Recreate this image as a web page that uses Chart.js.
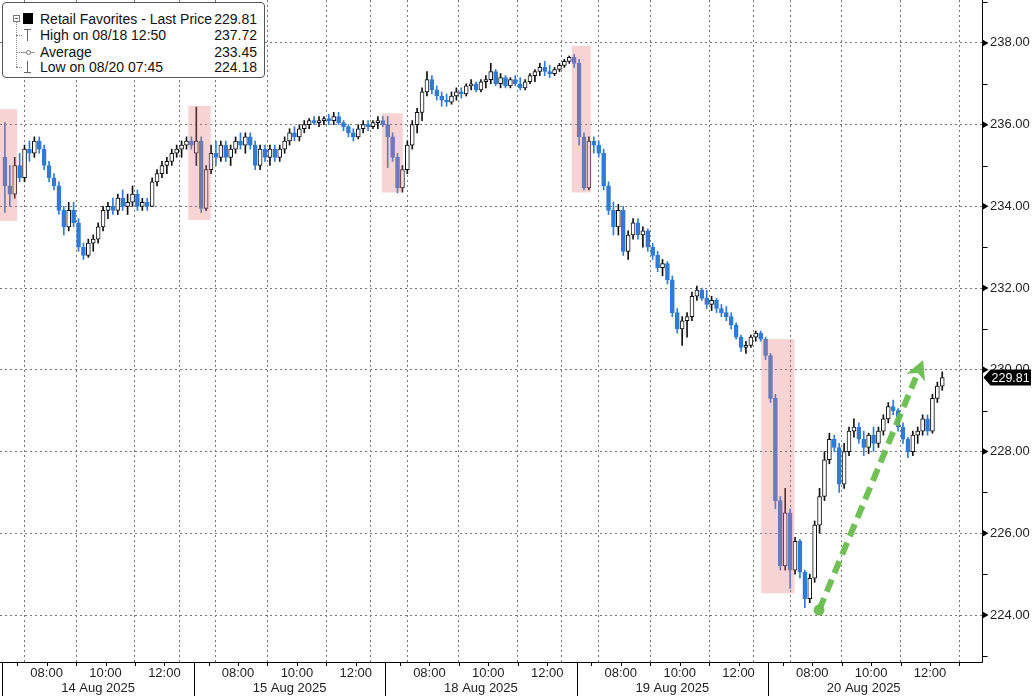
<!DOCTYPE html>
<html lang="en">
<head>
<meta charset="UTF-8">
<title>Retail Favorites - Last Price</title>
<script src="https://cdn.jsdelivr.net/npm/chart.js@4"></script>
<style>
    body { margin: 0; background: #fff; font-family: "Liberation Sans", Arial, sans-serif; }
    #wrap { position: relative; width: 1034px; height: 696px; }
    #legend { position: absolute; left: 2px; top: 2px; width: 261px; height: 74px; border: 1px solid #555; border-radius: 4px; background: #fff; font-size: 14px; color: #111; }
    #legend span { position: absolute; box-sizing: border-box; }
    .row { position: absolute; left: 37px; right: 7px; height: 16px; line-height: 16px; white-space: nowrap; }
    .row .val { right: 0; top: 0; }
    .fold { left: 10px; top: 12px; width: 7px; height: 7px; border: 1px solid #777; }
    .fold::after { content: ''; position: absolute; left: 1px; top: 2px; width: 3px; border-top: 1px solid #555; }
    .swatch { left: 20px; top: 10px; width: 10px; height: 11px; background: #000; }
    .tree { left: 13px; top: 19px; height: 45px; border-left: 1px dotted #888; }
    .branch { left: 13px; width: 6px; border-top: 1px dotted #888; }
    .tee { left: 21px; top: 26px; width: 7px; height: 12px; border-top: 1px solid #666; }
    .tee::after { content: ''; position: absolute; left: 3px; top: 0; height: 11px; border-left: 1px solid #666; }
    .foot { left: 21px; top: 58px; width: 7px; height: 12px; border-bottom: 1px solid #666; }
    .foot::after { content: ''; position: absolute; left: 3px; top: 0; height: 11px; border-left: 1px solid #666; }
    .avg { left: 19px; top: 49px; width: 13px; border-top: 1px solid #999; }
    .avg::after { content: ''; position: absolute; left: 4px; top: -3px; width: 5px; height: 5px; border: 1px solid #777; border-radius: 50%; background: #fff; box-sizing: border-box; }
</style>
</head>
<body>
<div id="wrap">
    <canvas id="chart" width="1034" height="696"></canvas>
    <div id="legend">
        <span class="fold"></span><span class="swatch"></span>
        <span class="tree"></span>
        <span class="branch" style="top:32px"></span>
        <span class="branch" style="top:49px"></span>
        <span class="branch" style="top:64px"></span>
        <span class="tee"></span><span class="avg"></span><span class="foot"></span>
        <div class="row" style="top:8px">Retail Favorites - Last Price<span class="val">229.81</span></div>
        <div class="row" style="top:24px">High on 08/18 12:50<span class="val">237.72</span></div>
        <div class="row" style="top:41px">Average<span class="val">233.45</span></div>
        <div class="row" style="top:56px">Low on 08/20 07:45<span class="val">224.18</span></div>
    </div>
</div>

<script>
    // axis labels
    const dayLabels = ['14 Aug 2025', '15 Aug 2025', '18 Aug 2025', '19 Aug 2025', '20 Aug 2025'];
    const hourLabels = ['08:00', '10:00', '12:00'];
    const hourMinutes = [90, 210, 330];     // minutes after the 06:30 open
    const sessionMinutes = 390;
    const candleMinutes = 10;
    const yTicks = [224, 226, 228, 230, 232, 234, 236, 238];
    const minorTicks = [223, 225, 227, 229, 231, 233, 235, 237, 239];
    const lastPrice = 229.81;

    // 10-minute candles: [open, high, low, close]
    const aug14 = [
        [235.2, 236.05, 233.85, 234.5], [234.5, 235.0, 234.0, 234.3], [234.3, 235.2, 234.2, 235.0],
        [235.0, 235.3, 234.6, 234.7], [234.7, 235.5, 234.6, 235.4], [235.4, 235.6, 235.1, 235.3],
        [235.3, 235.7, 235.2, 235.6], [235.6, 235.7, 235.3, 235.4], [235.4, 235.5, 234.9, 235.0],
        [235.0, 235.1, 234.6, 234.7], [234.7, 234.8, 234.4, 234.5], [234.5, 234.6, 233.8, 233.9],
        [233.9, 234.0, 233.3, 233.5], [233.5, 234.1, 233.4, 233.9], [233.9, 234.1, 233.5, 233.6],
        [233.6, 233.7, 232.9, 233.0], [233.0, 233.1, 232.7, 232.8], [232.8, 233.2, 232.75, 233.1],
        [233.1, 233.3, 232.9, 233.2], [233.2, 233.6, 233.1, 233.5], [233.5, 234.0, 233.4, 233.9],
        [233.9, 234.1, 233.7, 234.0], [234.0, 234.2, 233.8, 233.9], [233.9, 234.3, 233.8, 234.2],
        [234.2, 234.4, 233.9, 234.0], [234.0, 234.3, 233.8, 234.1], [234.1, 234.5, 234.0, 234.3],
        [234.3, 234.4, 233.9, 234.0], [234.0, 234.2, 233.9, 234.1], [234.1, 234.2, 233.9, 234.0],
        [234.0, 234.7, 234.0, 234.6], [234.6, 234.9, 234.5, 234.8], [234.8, 235.1, 234.7, 235.0],
        [235.0, 235.2, 234.8, 235.1], [235.1, 235.4, 235.0, 235.3], [235.3, 235.5, 235.2, 235.4],
        [235.4, 235.6, 235.2, 235.5], [235.5, 235.7, 235.4, 235.6], [235.6, 235.7, 235.4, 235.5]
    ];
    const aug15 = [
        [235.3, 236.43, 235.0, 235.6], [235.6, 235.7, 233.85, 233.95], [233.95, 235.0, 233.9, 234.9],
        [234.9, 235.5, 234.8, 235.3], [235.3, 235.6, 235.0, 235.2], [235.2, 235.6, 235.1, 235.5],
        [235.5, 235.6, 235.1, 235.2], [235.2, 235.5, 235.0, 235.4], [235.4, 235.7, 235.3, 235.6],
        [235.6, 235.8, 235.4, 235.5], [235.5, 235.8, 235.3, 235.7], [235.7, 235.8, 235.4, 235.5],
        [235.5, 235.6, 234.9, 235.0], [235.0, 235.5, 234.9, 235.4], [235.4, 235.5, 235.1, 235.2],
        [235.2, 235.5, 235.0, 235.4], [235.4, 235.5, 235.1, 235.2], [235.2, 235.5, 235.1, 235.4],
        [235.4, 235.7, 235.3, 235.6], [235.6, 235.9, 235.5, 235.8], [235.8, 235.95, 235.6, 235.7],
        [235.7, 236.0, 235.6, 235.9], [235.9, 236.1, 235.8, 236.0], [236.0, 236.15, 235.9, 236.1],
        [236.1, 236.2, 236.0, 236.05], [236.05, 236.2, 235.95, 236.1], [236.1, 236.2, 236.0, 236.15],
        [236.15, 236.25, 236.0, 236.1], [236.1, 236.3, 236.0, 236.2], [236.2, 236.3, 236.0, 236.05],
        [236.05, 236.1, 235.85, 235.95], [235.95, 236.0, 235.7, 235.8], [235.8, 235.9, 235.6, 235.7],
        [235.7, 236.0, 235.65, 235.9], [235.9, 236.1, 235.8, 236.0], [236.0, 236.1, 235.85, 235.95],
        [235.95, 236.1, 235.9, 236.05], [236.05, 236.2, 235.9, 236.1], [236.1, 236.2, 235.95, 236.0]
    ];
    const aug18 = [
        [236.0, 236.2, 234.95, 235.7], [235.7, 235.8, 235.1, 235.2], [235.2, 235.3, 234.33, 234.45],
        [234.45, 235.0, 234.35, 234.9], [234.9, 235.6, 234.8, 235.5], [235.5, 236.1, 235.4, 236.0],
        [236.0, 236.4, 235.8, 236.3], [236.3, 236.9, 236.1, 236.8], [236.8, 237.3, 236.7, 237.1],
        [237.1, 237.2, 236.75, 236.85], [236.85, 236.95, 236.6, 236.7], [236.7, 236.8, 236.45, 236.6],
        [236.6, 236.75, 236.45, 236.55], [236.55, 236.8, 236.5, 236.7], [236.7, 236.9, 236.6, 236.8],
        [236.8, 236.9, 236.65, 236.75], [236.75, 237.0, 236.7, 236.95], [236.95, 237.1, 236.85, 237.0],
        [237.0, 237.05, 236.8, 236.85], [236.85, 237.1, 236.8, 237.05], [237.05, 237.2, 236.9, 237.1],
        [237.1, 237.5, 237.0, 237.3], [237.3, 237.35, 236.95, 237.0], [237.0, 237.25, 236.9, 237.15],
        [237.15, 237.2, 236.9, 236.95], [236.95, 237.15, 236.9, 237.1], [237.1, 237.2, 236.95, 237.0],
        [237.0, 237.15, 236.85, 236.9], [236.9, 237.1, 236.85, 237.05], [237.05, 237.25, 237.0, 237.2],
        [237.2, 237.35, 237.05, 237.3], [237.3, 237.5, 237.2, 237.4], [237.4, 237.55, 237.2, 237.3],
        [237.3, 237.45, 237.15, 237.25], [237.25, 237.4, 237.2, 237.35], [237.35, 237.5, 237.3, 237.45],
        [237.45, 237.6, 237.4, 237.55], [237.55, 237.68, 237.5, 237.65], [237.65, 237.72, 237.4, 237.5]
    ];
    const aug19 = [
        [237.5, 237.6, 235.5, 235.7], [235.7, 235.8, 234.4, 234.45], [234.45, 235.7, 234.4, 235.6],
        [235.6, 235.7, 235.3, 235.5], [235.5, 235.6, 235.2, 235.3], [235.3, 235.4, 234.4, 234.5],
        [234.5, 234.6, 233.8, 233.9], [233.9, 234.1, 233.3, 233.5], [233.5, 234.05, 233.3, 233.9],
        [233.9, 234.0, 232.8, 232.9], [232.9, 233.4, 232.7, 233.3], [233.3, 233.7, 233.2, 233.6],
        [233.6, 233.7, 233.2, 233.3], [233.3, 233.5, 233.0, 233.4], [233.4, 233.45, 232.9, 233.0],
        [233.0, 233.1, 232.7, 232.8], [232.8, 232.9, 232.4, 232.5], [232.5, 232.7, 232.3, 232.6],
        [232.6, 232.65, 232.1, 232.2], [232.2, 232.3, 231.3, 231.4], [231.4, 231.5, 230.9, 231.0],
        [231.0, 231.3, 230.6, 231.2], [231.2, 231.4, 230.8, 231.3], [231.3, 231.9, 231.2, 231.8],
        [231.8, 232.05, 231.7, 231.95], [231.95, 232.0, 231.7, 231.75], [231.75, 231.95, 231.5, 231.6],
        [231.6, 231.8, 231.45, 231.7], [231.7, 231.75, 231.4, 231.5], [231.5, 231.6, 231.3, 231.4],
        [231.4, 231.55, 231.2, 231.3], [231.3, 231.4, 231.0, 231.1], [231.1, 231.15, 230.75, 230.8],
        [230.8, 230.85, 230.45, 230.55], [230.55, 230.7, 230.4, 230.6], [230.6, 230.85, 230.55, 230.8],
        [230.8, 230.95, 230.7, 230.9], [230.9, 230.95, 230.7, 230.75], [230.75, 230.8, 230.25, 230.35]
    ];
    const aug20 = [
        [230.35, 230.4, 229.2, 229.3], [229.3, 229.4, 226.6, 226.8], [226.8, 226.9, 225.1, 225.2],
        [225.2, 227.1, 225.1, 226.5], [226.5, 226.6, 224.65, 225.1], [225.1, 225.9, 225.0, 225.8],
        [225.8, 225.85, 224.9, 225.05], [225.05, 225.1, 224.18, 224.4], [224.4, 225.0, 224.3, 224.9],
        [224.9, 226.3, 224.8, 226.2], [226.2, 227.1, 226.0, 226.9], [226.9, 228.0, 226.8, 227.8],
        [227.8, 228.45, 227.7, 228.3], [228.3, 228.4, 228.0, 228.1], [228.1, 228.2, 227.0, 227.2],
        [227.2, 228.2, 227.1, 228.0], [228.0, 228.6, 227.9, 228.5], [228.5, 228.8, 228.35, 228.6],
        [228.6, 228.7, 228.2, 228.3], [228.3, 228.5, 227.9, 228.1], [228.1, 228.45, 227.95, 228.4],
        [228.4, 228.6, 228.0, 228.2], [228.2, 228.6, 228.1, 228.5], [228.5, 228.9, 228.4, 228.8],
        [228.8, 229.2, 228.7, 229.1], [229.1, 229.26, 228.9, 229.0], [229.0, 229.05, 228.5, 228.6],
        [228.6, 228.7, 228.2, 228.3], [228.3, 228.35, 227.85, 228.0], [228.0, 228.5, 227.9, 228.4],
        [228.4, 228.6, 228.2, 228.5], [228.5, 228.9, 228.4, 228.8], [228.8, 228.9, 228.4, 228.5],
        [228.5, 229.4, 228.45, 229.3], [229.3, 229.7, 229.2, 229.6], [229.6, 229.95, 229.5, 229.81]
    ];

    // highlighted zones: [from minute, to minute, low price, high price]
    const shadeZones = [
        [-5, 30, 233.64, 236.38],
        [378.7, 424.4, 233.67, 236.46],
        [773, 815.7, 234.34, 236.28],
        [1160, 1199, 234.34, 237.93],
        [1546, 1614, 224.53, 230.75]
    ];
    // green arrow: [minute, price]
    const arrowFrom = [1664, 224.12];
    const arrowTo = [1876, 230.24];

    const BLUE = '#2f7bd6';
    const GREEN = 'rgba(104, 190, 76, 0.95)';
    const FONT = '"Liberation Sans", Arial, sans-serif';

    const wicks = [], bodies = [], up = [];
    [aug14, aug15, aug18, aug19, aug20].forEach((day, d) => {
        day.forEach((c, i) => {
            const x = d * sessionMinutes + i * candleMinutes + candleMinutes / 2;
            wicks.push({ x: x, y: [c[2], c[1]] });
            bodies.push({ x: x, y: [c[0], c[3]] });
            up.push(c[3] >= c[0]);
        });
    });

    const gridMinutes = [];
    dayLabels.forEach((_, d) => {
        gridMinutes.push(d * sessionMinutes);
        hourMinutes.forEach(m => gridMinutes.push(d * sessionMinutes + m));
    });

    const noPadding = s => {
        s.paddingTop = 0; s.paddingBottom = 0; s.paddingLeft = 0; s.paddingRight = 0;
    };

    const overlay = {
        id: 'overlay',
        afterDatasetsDraw(chart) {
            const { ctx, chartArea: a, scales: { x, y } } = chart;
            ctx.save();
            ctx.beginPath();
            ctx.rect(a.left, a.top, a.right - a.left, a.bottom - a.top);
            ctx.clip();

            ctx.fillStyle = 'rgba(232, 120, 120, 0.33)';
            shadeZones.forEach(([m0, m1, lo, hi]) => {
                const px0 = x.getPixelForValue(m0), px1 = x.getPixelForValue(m1);
                const py0 = y.getPixelForValue(hi), py1 = y.getPixelForValue(lo);
                ctx.fillRect(px0, py0, px1 - px0, py1 - py0);
            });

            const ax0 = x.getPixelForValue(arrowFrom[0]), ay0 = y.getPixelForValue(arrowFrom[1]);
            const ax1 = x.getPixelForValue(arrowTo[0]), ay1 = y.getPixelForValue(arrowTo[1]);
            const ang = Math.atan2(ay1 - ay0, ax1 - ax0);
            const head = 19;
            const bx = ax1 - Math.cos(ang) * head, by = ay1 - Math.sin(ang) * head;
            ctx.strokeStyle = GREEN;
            ctx.fillStyle = GREEN;
            ctx.lineWidth = 6;
            ctx.setLineDash([13, 7]);
            ctx.beginPath();
            ctx.moveTo(ax0, ay0);
            ctx.lineTo(bx, by);
            ctx.stroke();
            ctx.setLineDash([]);
            ctx.beginPath();
            ctx.arc(ax0, ay0, 5.5, 0, Math.PI * 2);
            ctx.fill();
            ctx.beginPath();
            ctx.moveTo(ax1, ay1);
            ctx.lineTo(bx + Math.sin(ang) * 10, by - Math.cos(ang) * 10);
            ctx.lineTo(ax1 - Math.cos(ang) * (head - 5), ay1 - Math.sin(ang) * (head - 5));
            ctx.lineTo(bx - Math.sin(ang) * 10, by + Math.cos(ang) * 10);
            ctx.closePath();
            ctx.fill();
            ctx.restore();
        },
        afterDraw(chart) {
            const { ctx, chartArea: a, scales: { x, y } } = chart;
            const crisp = v => Math.round(v) + 0.5;
            const rx = crisp(a.right);
            ctx.save();
            ctx.strokeStyle = '#000';
            ctx.lineWidth = 1;

            // axis lines
            ctx.beginPath();
            ctx.moveTo(rx, a.top);
            ctx.lineTo(rx, crisp(a.bottom));
            ctx.moveTo(0, crisp(a.bottom));
            ctx.lineTo(rx, crisp(a.bottom));
            ctx.stroke();

            // time axis: day separators, hour ticks, labels
            ctx.font = '13px ' + FONT;
            ctx.fillStyle = '#222';
            ctx.textAlign = 'center';
            ctx.textBaseline = 'middle';
            dayLabels.forEach((label, d) => {
                const start = d * sessionMinutes;
                const sx = crisp(x.getPixelForValue(start));
                ctx.beginPath();
                ctx.moveTo(sx, a.bottom);
                ctx.lineTo(sx, chart.height);
                ctx.stroke();
                ctx.beginPath();
                for (let m = 30; m <= sessionMinutes; m += 60) {
                    const tx = crisp(x.getPixelForValue(start + m));
                    ctx.moveTo(tx, a.bottom);
                    ctx.lineTo(tx, a.bottom + 4);
                }
                ctx.stroke();
                hourLabels.forEach((t, i) => ctx.fillText(t, x.getPixelForValue(start + hourMinutes[i]), a.bottom + 11));
                ctx.fillText(label, x.getPixelForValue(start + sessionMinutes / 2), a.bottom + 26);
            });

            // price axis markers
            ctx.fillStyle = '#000';
            yTicks.forEach(v => {
                const py = y.getPixelForValue(v);
                ctx.beginPath();
                ctx.moveTo(rx, py - 3.5);
                ctx.lineTo(rx + 6, py);
                ctx.lineTo(rx, py + 3.5);
                ctx.closePath();
                ctx.fill();
            });
            ctx.beginPath();
            minorTicks.forEach(v => {
                const py = crisp(y.getPixelForValue(v));
                ctx.moveTo(rx, py);
                ctx.lineTo(rx + 5, py);
            });
            ctx.stroke();

            // last price tag
            const py = y.getPixelForValue(lastPrice);
            ctx.beginPath();
            ctx.moveTo(rx + 1, py);
            ctx.lineTo(rx + 8, py - 8);
            ctx.lineTo(chart.width - 3, py - 8);
            ctx.lineTo(chart.width - 3, py + 8);
            ctx.lineTo(rx + 8, py + 8);
            ctx.closePath();
            ctx.fill();
            ctx.fillStyle = '#fff';
            ctx.textAlign = 'left';
            ctx.font = '12.5px ' + FONT;
            ctx.fillText(lastPrice.toFixed(2), rx + 9, py + 1);
            ctx.restore();
        }
    };

    new Chart(document.getElementById('chart'), {
        type: 'bar',
        data: {
            datasets: [
                {
                    label: 'High/Low',
                    data: wicks,
                    barThickness: 1,
                    grouped: false,
                    order: 2,
                    borderWidth: 0,
                    backgroundColor: ctx => up[ctx.dataIndex] ? '#111' : BLUE
                },
                {
                    label: 'Open/Close',
                    data: bodies,
                    barThickness: 4,
                    grouped: false,
                    order: 1,
                    borderWidth: 1,
                    borderSkipped: false,
                    backgroundColor: ctx => up[ctx.dataIndex] ? '#fff' : BLUE,
                    borderColor: ctx => up[ctx.dataIndex] ? '#111' : BLUE
                }
            ]
        },
        options: {
            responsive: false,
            animation: false,
            devicePixelRatio: 1,
            layout: { padding: 0 },
            plugins: { legend: { display: false }, tooltip: { enabled: false } },
            scales: {
                x: {
                    type: 'linear',
                    min: -5,
                    max: 1996,
                    offset: false,
                    afterBuildTicks: s => { s.ticks = gridMinutes.map(v => ({ value: v })); },
                    afterFit: s => { s.height = 34; noPadding(s); },
                    ticks: { display: false },
                    grid: { color: '#777', drawTicks: false },
                    border: { display: false, dash: [2, 3] }
                },
                y: {
                    position: 'right',
                    min: 222.85,
                    max: 239.05,
                    afterBuildTicks: s => { s.ticks = yTicks.map(v => ({ value: v })); },
                    afterFit: s => { s.width = 52; noPadding(s); },
                    ticks: {
                        callback: v => v.toFixed(2),
                        color: '#222',
                        font: { family: FONT, size: 13 },
                        padding: 8
                    },
                    grid: { color: '#777', drawTicks: false },
                    border: { display: false, dash: [2, 3] }
                }
            }
        },
        plugins: [overlay]
    });
</script>
</body>
</html>
